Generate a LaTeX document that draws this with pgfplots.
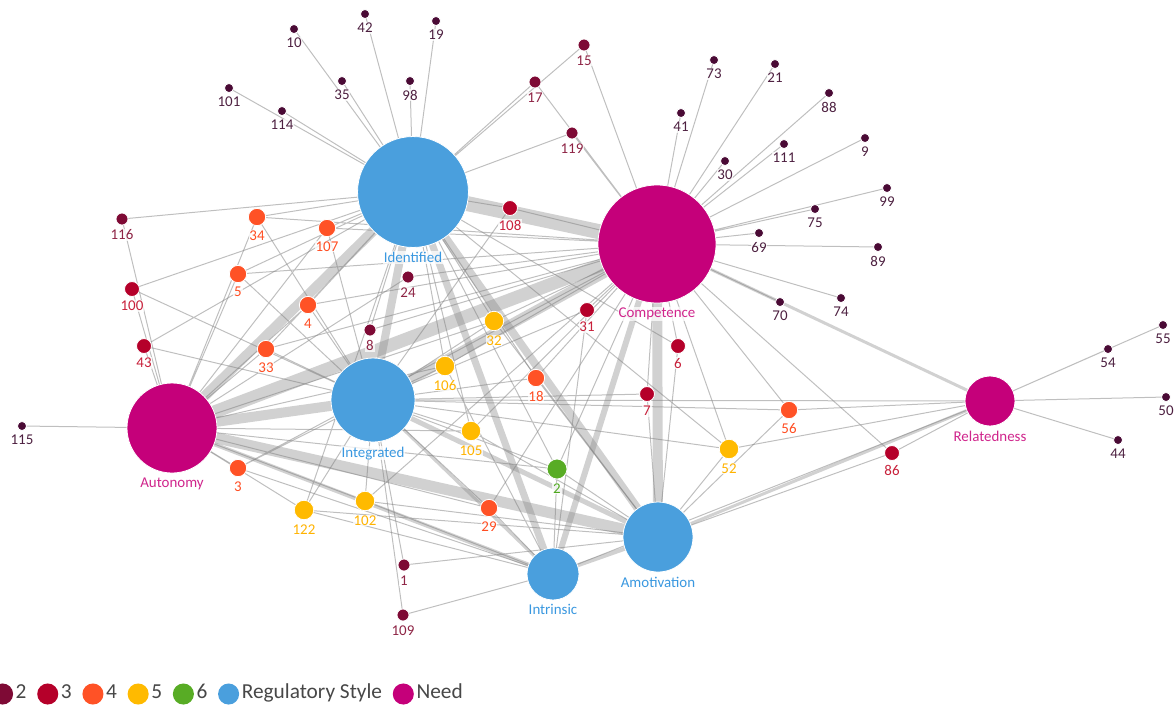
\documentclass[border=0pt]{standalone}
\usepackage{pgfplots}
\pgfplotsset{compat=1.18}
\usepackage{fontspec}
\setmainfont{Carlito}
\definecolor{cOne}{HTML}{4A0A35}
\definecolor{cTwo}{HTML}{7E0A35}
\definecolor{cThree}{HTML}{B5002A}
\definecolor{cFour}{HTML}{FF5226}
\definecolor{cFive}{HTML}{FFBA00}
\definecolor{cSix}{HTML}{58AC25}
\definecolor{cReg}{HTML}{4A9FDD}
\definecolor{cNeed}{HTML}{C5007A}
\definecolor{tOne}{HTML}{4D2040}
\definecolor{tTwo}{HTML}{8E2445}
\definecolor{tThree}{HTML}{C8203A}
\definecolor{tFour}{HTML}{FF4D22}
\definecolor{tFive}{HTML}{FFB300}
\definecolor{tSix}{HTML}{4EA81E}
\definecolor{tReg}{HTML}{3A98E0}
\definecolor{tNeed}{HTML}{D0258C}
\newcommand\lbl{\fontsize{11.2}{12}\selectfont}
\newcommand\legfont{\fontsize{16}{18}\selectfont}
\pgfplotsset{
  edge/.style={no marks, draw=black!50, opacity=0.5, line width=0.75pt, unbounded coords=jump},
  band/.style={no marks, draw=black!45, opacity=0.4, line cap=butt, line width=#1},
  nd/.style n args={4}{only marks, mark=*, mark size=#1,
    mark options={fill=#2, draw=white, line width=0.6pt},
    point meta=explicit symbolic, nodes near coords,
    nodes near coords align={anchor=north},
    every node near coord/.append style={anchor=north, yshift=#3, text=#4, font=\lbl,
      fill=white, fill opacity=0.75, text opacity=1, inner sep=0.6pt}},
}
\begin{document}
\begin{tikzpicture}
\begin{axis}[scale only axis, width=882pt, height=531pt,
  xmin=0, xmax=1176, ymin=0, ymax=708, y dir=reverse, hide axis, clip=false,
  legend columns=-1,
  legend image code/.code={\path[#1, draw=none] (7.9pt,0pt) circle (7.9pt);},
  legend style={at={(axis cs:-8,694)}, anchor=west, draw=none, fill=none,
    inner sep=0pt, outer sep=0pt, font=\legfont, text=black!72,
    column sep=0pt, /tikz/every even column/.append style={column sep=6pt},
    cells={anchor=west, inner xsep=3pt, inner ysep=0pt, text height=0.75em, text depth=0.12em}},
]
\addlegendimage{fill=cTwo}\addlegendentry{2}
\addlegendimage{fill=cThree}\addlegendentry{3}
\addlegendimage{fill=cFour}\addlegendentry{4}
\addlegendimage{fill=cFive}\addlegendentry{5}
\addlegendimage{fill=cSix}\addlegendentry{6}
\addlegendimage{fill=cReg}\addlegendentry{Regulatory Style}
\addlegendimage{fill=cNeed}\addlegendentry{Need}

% ---- weighted hub-hub edges ----
\addplot[band=11.25pt, forget plot] coordinates {(413,192) (657,244)};
\addplot[band=7.5pt, forget plot] coordinates {(172,428) (413,192)};
\addplot[band=9.75pt, forget plot] coordinates {(172,428) (657,244)};
\addplot[band=7.5pt, forget plot] coordinates {(172,428) (373,400)};
\addplot[band=6pt, forget plot] coordinates {(373,400) (413,192)};
\addplot[band=7.5pt, forget plot] coordinates {(373,400) (657,244)};
\addplot[band=5.25pt, forget plot] coordinates {(413,192) (553,574)};
\addplot[band=6pt, forget plot] coordinates {(413,192) (658,537)};
\addplot[band=8.25pt, forget plot] coordinates {(172,428) (658,537)};
\addplot[band=3pt, forget plot] coordinates {(172,428) (553,574)};
\addplot[band=7.5pt, forget plot] coordinates {(657,244) (658,537)};
\addplot[band=4.5pt, forget plot] coordinates {(657,244) (553,574)};
\addplot[band=3.75pt, forget plot] coordinates {(373,400) (658,537)};
\addplot[band=2.25pt, forget plot] coordinates {(373,400) (553,574)};
\addplot[band=3pt, forget plot] coordinates {(553,574) (658,537)};
\addplot[band=2.25pt, forget plot] coordinates {(657,244) (990,401)};
\addplot[band=2.25pt, forget plot] coordinates {(658,537) (990,401)};
\addplot[edge, forget plot] table {
x y
373 400
990 401
nan nan
553 574
990 401
};

% ---- edges of items seen once ----
\addplot[edge, forget plot] table {
x y
294 29
413 192
nan nan
365 14
413 192
nan nan
436 21
413 192
nan nan
342 81
413 192
nan nan
410 81
413 192
nan nan
229 88
413 192
nan nan
282 111
413 192
nan nan
714 60
657 244
nan nan
681 113
657 244
nan nan
775 64
657 244
nan nan
829 93
657 244
nan nan
784 144
657 244
nan nan
725 161
657 244
nan nan
865 138
657 244
nan nan
887 188
657 244
nan nan
815 209
657 244
nan nan
759 233
657 244
nan nan
878 247
657 244
nan nan
780 302
657 244
nan nan
841 298
657 244
nan nan
22 426
172 428
nan nan
1163 325
990 401
nan nan
1108 349
990 401
nan nan
1166 397
990 401
nan nan
1118 440
990 401
};
% ---- edges of items seen twice ----
\addplot[edge, forget plot] table {
x y
413 192
122 219
172 428
nan nan
413 192
584 45
657 244
nan nan
413 192
535 82
657 244
nan nan
413 192
572 133
657 244
nan nan
657 244
408 277
172 428
nan nan
413 192
370 330
657 244
nan nan
373 400
404 565
658 537
nan nan
373 400
403 615
553 574
};
% ---- three ----
\addplot[edge, forget plot] table {
x y
413 192
510 208
657 244
nan nan
510 208
373 400
nan nan
413 192
132 289
172 428
nan nan
132 289
373 400
nan nan
172 428
144 346
413 192
nan nan
144 346
373 400
nan nan
657 244
587 310
553 574
nan nan
587 310
373 400
nan nan
657 244
678 346
658 537
nan nan
678 346
413 192
nan nan
657 244
647 394
658 537
nan nan
647 394
373 400
nan nan
657 244
892 453
990 401
nan nan
892 453
658 537
};
% ---- four ----
\addplot[edge, forget plot] table {
x y
413 192
257 217
172 428
nan nan
373 400
257 217
657 244
nan nan
413 192
327 228
172 428
nan nan
373 400
327 228
657 244
nan nan
413 192
238 274
172 428
nan nan
373 400
238 274
657 244
nan nan
413 192
308 305
172 428
nan nan
373 400
308 305
657 244
nan nan
413 192
266 349
172 428
nan nan
373 400
266 349
657 244
nan nan
172 428
238 468
373 400
nan nan
657 244
238 468
553 574
nan nan
373 400
536 378
657 244
nan nan
413 192
536 378
658 537
nan nan
172 428
489 508
373 400
nan nan
657 244
489 508
553 574
nan nan
657 244
789 410
990 401
nan nan
373 400
789 410
658 537
};
% ---- five and six ----
\addplot[edge, forget plot] table {
x y
413 192
494 321
657 244
nan nan
373 400
494 321
172 428
nan nan
494 321
658 537
nan nan
413 192
445 366
657 244
nan nan
373 400
445 366
172 428
nan nan
445 366
553 574
nan nan
413 192
471 431
657 244
nan nan
373 400
471 431
172 428
nan nan
471 431
658 537
nan nan
413 192
304 510
172 428
nan nan
373 400
304 510
553 574
nan nan
304 510
658 537
nan nan
657 244
365 501
172 428
nan nan
373 400
365 501
553 574
nan nan
365 501
658 537
nan nan
657 244
729 449
990 401
nan nan
373 400
729 449
658 537
nan nan
729 449
413 192
nan nan
413 192
557 469
657 244
nan nan
373 400
557 469
172 428
nan nan
553 574
557 469
658 537
};

% ---- nodes ----
\addplot[nd={3.4pt}{cOne}{-6pt}{tOne}, forget plot] table[meta=l] {
x y l
294 29 10
365 14 42
436 21 19
342 81 35
410 81 98
229 88 101
282 111 114
714 60 73
681 113 41
775 64 21
829 93 88
784 144 111
725 161 30
865 138 9
887 188 99
815 209 75
759 233 69
878 247 89
780 302 70
841 298 74
22 426 115
1163 325 55
1108 349 54
1166 397 50
1118 440 44
};
\addplot[nd={4.5pt}{cTwo}{-7.1pt}{tTwo}, forget plot] table[meta=l] {
x y l
122 219 116
584 45 15
535 82 17
572 133 119
408 277 24
370 330 8
404 565 1
403 615 109
};
\addplot[nd={5.6pt}{cThree}{-8.25pt}{tThree}, forget plot] table[meta=l] {
x y l
510 208 108
132 289 100
144 346 43
587 310 31
678 346 6
647 394 7
892 453 86
};
\addplot[nd={6.5pt}{cFour}{-9.15pt}{tFour}, forget plot] table[meta=l] {
x y l
257 217 34
327 228 107
238 274 5
308 305 4
266 349 33
238 468 3
536 378 18
489 508 29
789 410 56
};
\addplot[nd={7.3pt}{cFive}{-9.9pt}{tFive}, forget plot] table[meta=l] {
x y l
494 321 32
445 366 106
471 431 105
304 510 122
365 501 102
729 449 52
};
\addplot[nd={7.5pt}{cSix}{-10.1pt}{tSix}, forget plot] table[meta=l] {
x y l
557 469 2
};
\addplot[nd={41.6pt}{cReg}{-44.3pt}{tReg}, forget plot] table[meta=l] {
x y l
413 192 Identified
};
\addplot[nd={31.5pt}{cReg}{-34.1pt}{tReg}, forget plot] table[meta=l] {
x y l
373 400 Integrated
};
\addplot[nd={26.25pt}{cReg}{-28.9pt}{tReg}, forget plot] table[meta=l] {
x y l
658 537 Amotivation
};
\addplot[nd={19.5pt}{cReg}{-22.1pt}{tReg}, forget plot] table[meta=l] {
x y l
553 574 Intrinsic
};
\addplot[nd={44.25pt}{cNeed}{-46.9pt}{tNeed}, forget plot] table[meta=l] {
x y l
657 244 Competence
};
\addplot[nd={33.75pt}{cNeed}{-36.4pt}{tNeed}, forget plot] table[meta=l] {
x y l
172 428 Autonomy
};
\addplot[nd={18.75pt}{cNeed}{-21.4pt}{tNeed}, forget plot] table[meta=l] {
x y l
990 401 Relatedness
};
\end{axis}
\pgfresetboundingbox
\path (current axis.south west) rectangle (current axis.north east);
\end{tikzpicture}
\end{document}
